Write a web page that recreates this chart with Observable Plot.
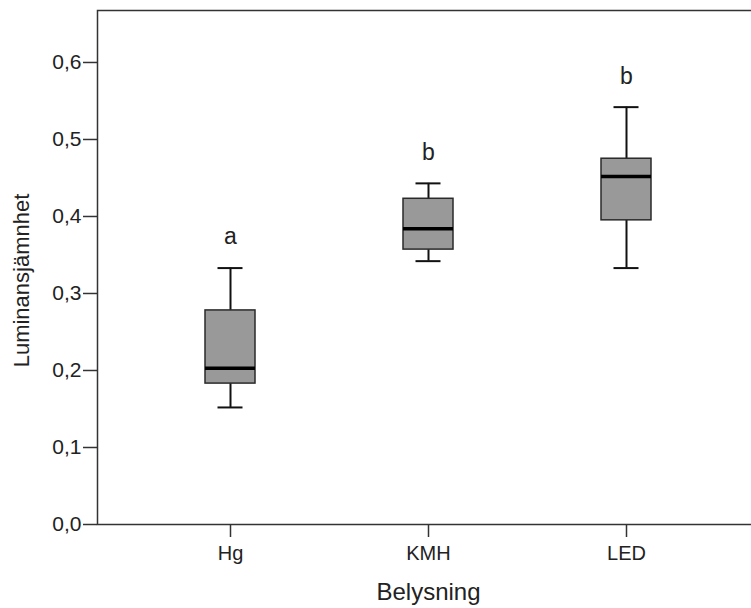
<!DOCTYPE html>
<html>
<head>
<meta charset="utf-8">
<script src="https://cdn.jsdelivr.net/npm/d3@7"></script>
<script src="https://cdn.jsdelivr.net/npm/@observablehq/plot@0.6"></script>
<style>
  html, body { margin: 0; padding: 0; overflow: hidden; background: #fff; }
</style>
</head>
<body>
<div id="chart"></div>
<script>
// Categories and box-plot statistics
const categories = ["Hg", "KMH", "LED"];
const whiskerLow = [0.152, 0.342, 0.333];
const q1 = [0.183, 0.357, 0.395];
const median = [0.203, 0.384, 0.452];
const q3 = [0.278, 0.423, 0.475];
const whiskerHigh = [0.333, 0.443, 0.542];
const groupLetters = ["a", "b", "b"];
const yTicks = [0, 0.1, 0.2, 0.3, 0.4, 0.5, 0.6];
const yMax = 0.6675;

const data = categories.map((c, i) => ({
  cat: c, lo: whiskerLow[i], q1: q1[i], med: median[i], q3: q3[i], hi: whiskerHigh[i], letter: groupLetters[i]
}));

const font = "'Liberation Sans', Arial, sans-serif";
const dark = "#333333";

const chart = Plot.plot({
  width: 751,
  height: 608,
  marginLeft: 97,
  marginRight: -8,
  marginTop: 10,
  marginBottom: 84,
  style: { fontFamily: font, fontSize: "20px", color: "#222", background: "#fff" },
  x: { domain: categories, paddingInner: 0.7487, paddingOuter: 0.5377, align: 0.5 },
  y: { domain: [0, yMax] },
  marks: [
    Plot.frame({ stroke: dark, strokeWidth: 1.5 }),
    Plot.axisY({
      ticks: yTicks, tickSize: 14, tickPadding: 2, stroke: dark, strokeWidth: 1.5,
      tickFormat: d => d3.format(".1f")(d).replace(".", ","), label: null, fontSize: 21
    }),
    Plot.axisX({ tickSize: 13, tickPadding: 8, stroke: dark, strokeWidth: 1.5, label: null, fontSize: 20 }),
    Plot.ruleX(data, { x: "cat", y1: "lo", y2: "q1", stroke: "#111", strokeWidth: 2 }),
    Plot.ruleX(data, { x: "cat", y1: "q3", y2: "hi", stroke: "#111", strokeWidth: 2 }),
    Plot.tickY(data, { x: "cat", y: "hi", stroke: "#111", strokeWidth: 2, insetLeft: 12.5, insetRight: 12.5 }),
    Plot.tickY(data, { x: "cat", y: "lo", stroke: "#111", strokeWidth: 2, insetLeft: 12.5, insetRight: 12.5 }),
    Plot.barY(data, { x: "cat", y1: "q1", y2: "q3", fill: "#999999", stroke: "#2a2a2a", strokeWidth: 1.5 }),
    Plot.tickY(data, { x: "cat", y: "med", stroke: "#000", strokeWidth: 3.5 }),
    Plot.text(data, { x: "cat", y: "hi", text: "letter", dy: -31, fontSize: 23, fill: "#222" }),
    Plot.text(["Belysning"], { frameAnchor: "bottom", lineAnchor: "middle", dy: 68, fontSize: 24, fill: "#222" }),
    Plot.text(["Luminansjämnhet"], { frameAnchor: "left", textAnchor: "middle", rotate: -90, dx: -76, dy: 13, fontSize: 22, fill: "#222" })
  ]
});

document.getElementById("chart").appendChild(chart);
</script>
</body>
</html>
